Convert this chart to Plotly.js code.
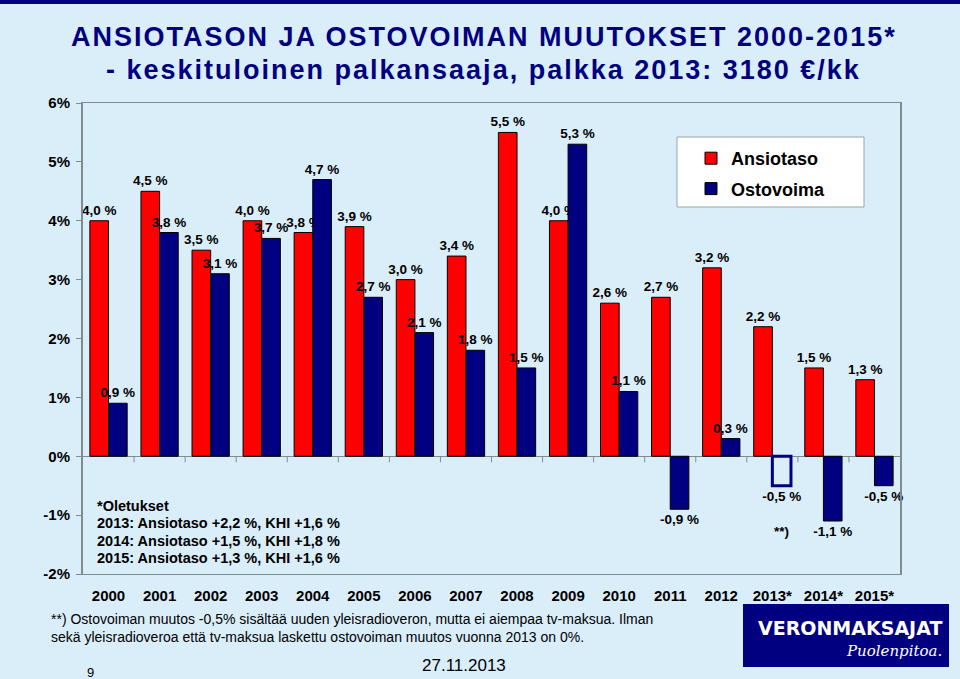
<!DOCTYPE html>
<html>
<head>
<meta charset="utf-8">
<script src="https://cdn.plot.ly/plotly-3.0.1.min.js"></script>
<style>
  html, body { margin: 0; padding: 0; background: #DAEEFA; }
  #wrap { position: relative; width: 960px; height: 679px; }
  #topbar { position: absolute; left: 0; top: 0; width: 960px; height: 4px; background: #000080; z-index: 5; }
  #chart { width: 960px; height: 679px; }
  .annotation[data-index="0"] text, .annotation[data-index="1"] text { letter-spacing: 2px; }
</style>
</head>
<body>
<div id="wrap">
  <div id="topbar"></div>
  <div id="chart"></div>
</div>
<script>
// ---- data ----
const categories = ['2000','2001','2002','2003','2004','2005','2006','2007','2008','2009','2010','2011','2012','2013*','2014*','2015*'];
const ansiotaso = [4.0, 4.5, 3.5, 4.0, 3.8, 3.9, 3.0, 3.4, 5.5, 4.0, 2.6, 2.7, 3.2, 2.2, 1.5, 1.3];
const ostovoima = [0.9, 3.8, 3.1, 3.7, 4.7, 2.7, 2.1, 1.8, 1.5, 5.3, 1.1, -0.9, 0.3, -0.5, -1.1, -0.5];
const seriesNames = ['Ansiotaso', 'Ostovoima'];
const yTickValues = [-2, -1, 0, 1, 2, 3, 4, 5, 6];
const estimateCategory = '2013*';
const titleLines = ['ANSIOTASON JA OSTOVOIMAN MUUTOKSET 2000-2015*', '- keskituloinen palkansaaja, palkka 2013: 3180 €/kk'];
const assumptionLines = ['*Oletukset', '2013: Ansiotaso +2,2 %, KHI +1,6 %', '2014: Ansiotaso +1,5 %, KHI +1,8 %', '2015: Ansiotaso +1,3 %, KHI +1,6 %'];
const footnoteLines = ['**) Ostovoiman muutos -0,5% sisältää uuden yleisradioveron, mutta ei aiempaa tv-maksua. Ilman', 'sekä yleisradioveroa että tv-maksua laskettu ostovoiman muutos vuonna 2013 on 0%.'];
const pageNumber = '9';
const dateText = '27.11.2013';
const logoMain = 'VERONMAKSAJAT';
const logoSub = 'Puolenpitoa.';
const estimateMark = '**)';

// ---- layout helpers ----
const M = { l: 83, r: 60, t: 103, b: 105 };
const W = 960, H = 679;
const PW = W - M.l - M.r, PH = H - M.t - M.b;
const px2x = px => (px - M.l) / PW;
const px2y = py => (H - M.b - py) / PH;

const fmt = v => v.toFixed(1).replace('.', ',') + ' %';
const RED = '#FF0000', NAVY = '#000080', GRAY = '#7F8C8D', BG = '#DAEEFA';
const SANS = 'Liberation Sans, Arial, sans-serif';
const labelFont = { family: SANS, size: 13.5, color: '#000', weight: 700 };

const traces = [
  {
    type: 'bar', name: seriesNames[0], x: categories, y: ansiotaso,
    marker: { color: RED, line: { color: '#000', width: 1 } },
    text: ansiotaso.map(fmt), textposition: 'outside', textangle: 0,
    constraintext: 'none', cliponaxis: false, textfont: labelFont,
    legendgroup: 'a', hoverinfo: 'skip'
  },
  {
    type: 'bar', name: seriesNames[1], x: categories, y: ostovoima,
    marker: {
      color: categories.map(c => c === estimateCategory ? 'rgba(0,0,0,0)' : NAVY),
      line: {
        color: categories.map(c => c === estimateCategory ? NAVY : '#000'),
        width: categories.map(c => c === estimateCategory ? 3 : 1)
      }
    },
    text: ostovoima.map(fmt), textposition: 'outside', textangle: 0,
    constraintext: 'none', cliponaxis: false, textfont: labelFont,
    legendgroup: 'b', hoverinfo: 'skip'
  }
];

// tick marks at category boundaries on the zero line
const shapes = [];
for (let i = 0; i < categories.length - 1; i++) {
  shapes.push({
    type: 'line', xref: 'x', yref: 'y', x0: i + 0.5, x1: i + 0.5,
    ysizemode: 'pixel', yanchor: 0, y0: 0, y1: -6,
    line: { color: GRAY, width: 1 }
  });
}
// legend box
shapes.push({
  type: 'rect', xref: 'paper', yref: 'paper', layer: 'below',
  x0: px2x(677), x1: px2x(864), y0: px2y(207), y1: px2y(137),
  fillcolor: '#FFFFFF', line: { color: '#9AA5A8', width: 1 }
});
// logo box
shapes.push({
  type: 'rect', xref: 'paper', yref: 'paper',
  x0: px2x(743), x1: px2x(949), y0: px2y(667), y1: px2y(604),
  fillcolor: NAVY, line: { width: 0 }
});

const annotations = [];
// title lines (index 0 and 1, letter-spaced by CSS)
const titleY = [37, 70];
titleLines.forEach((t, i) => annotations.push({
  xref: 'paper', yref: 'paper', x: px2x(484), y: px2y(titleY[i]), xanchor: 'center', yanchor: 'middle',
  showarrow: false, text: t,
  font: { family: SANS, size: 27, color: NAVY, weight: 700 }
}));
// assumptions block
assumptionLines.forEach((t, i) => annotations.push({
  xref: 'paper', yref: 'paper', x: px2x(95), y: px2y(506 + i * 17.4), xanchor: 'left', yanchor: 'middle',
  align: 'left', showarrow: false, text: t,
  font: { family: SANS, size: 14.5, color: '#000', weight: 700 }
}));
annotations.push(
  {
    xref: 'x', yref: 'y', x: estimateCategory, y: -1.27, xshift: 9, showarrow: false,
    text: estimateMark,
    font: { family: SANS, size: 13.5, color: '#000', weight: 700 }
  },
  {
    xref: 'paper', yref: 'paper', x: px2x(49), y: px2y(628), xanchor: 'left', yanchor: 'middle',
    align: 'left', showarrow: false, text: footnoteLines.join('<br>'),
    font: { family: SANS, size: 14, color: '#000' }
  },
  {
    xref: 'paper', yref: 'paper', x: px2x(85), y: px2y(672), xanchor: 'left', yanchor: 'middle',
    showarrow: false, text: pageNumber,
    font: { family: SANS, size: 13, color: '#000' }
  },
  {
    xref: 'paper', yref: 'paper', x: px2x(464), y: px2y(665), xanchor: 'center', yanchor: 'middle',
    showarrow: false, text: dateText,
    font: { family: SANS, size: 17, color: '#000' }
  },
  {
    xref: 'paper', yref: 'paper', x: px2x(944), y: px2y(628), xanchor: 'right', yanchor: 'middle',
    showarrow: false, text: logoMain,
    font: { family: 'DejaVu Sans, Verdana, sans-serif', size: 19, color: '#FFFFFF', weight: 700 }
  },
  {
    xref: 'paper', yref: 'paper', x: px2x(944), y: px2y(651), xanchor: 'right', yanchor: 'middle',
    showarrow: false, text: logoSub,
    font: { family: 'DejaVu Serif, Liberation Serif, serif', size: 15, color: '#FFFFFF', style: 'italic' }
  }
);

const layout = {
  width: W, height: H,
  margin: M,
  paper_bgcolor: BG, plot_bgcolor: BG,
  barmode: 'group', bargap: 0.27, bargroupgap: 0,
  showlegend: true,
  legend: {
    x: px2x(691), y: px2y(140), xanchor: 'left', yanchor: 'top',
    bgcolor: 'rgba(0,0,0,0)', borderwidth: 0, tracegroupgap: 4,
    font: { family: SANS, size: 18, color: '#000', weight: 700 }
  },
  xaxis: {
    type: 'category', showline: true, mirror: true, linecolor: GRAY, linewidth: 1,
    ticks: '', showgrid: false, zeroline: false, ticklabelstandoff: 8,
    tickfont: { family: SANS, size: 15, color: '#000', weight: 700 }
  },
  yaxis: {
    range: [-2, 6], tickmode: 'array', tickvals: yTickValues, ticktext: yTickValues.map(v => v + '%'),
    showline: true, mirror: true, linecolor: GRAY, linewidth: 2,
    ticks: 'outside', ticklen: 5, tickcolor: GRAY, showgrid: false,
    zeroline: true, zerolinecolor: GRAY, zerolinewidth: 1, ticklabelstandoff: 3,
    tickfont: { family: SANS, size: 15, color: '#000', weight: 700 }
  },
  shapes: shapes,
  annotations: annotations,
  hovermode: false
};

Plotly.newPlot('chart', traces, layout, { displayModeBar: false, staticPlot: true });
</script>
</body>
</html>
